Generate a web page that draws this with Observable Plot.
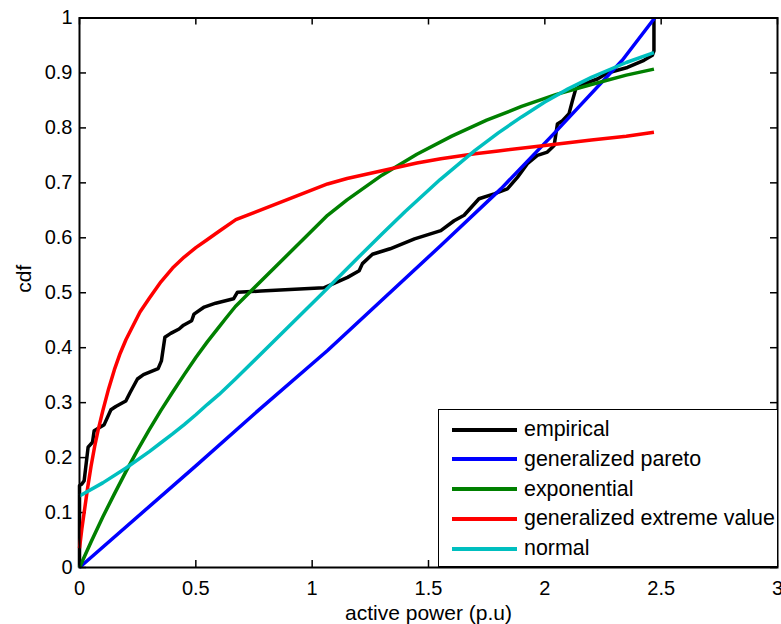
<!DOCTYPE html>
<html>
<head>
<meta charset="utf-8">
<script src="https://cdn.jsdelivr.net/npm/d3@7"></script>
<script src="https://cdn.jsdelivr.net/npm/@observablehq/plot@0.6"></script>
<style>
  body { margin: 0; background: #fff; font-family: "Liberation Sans", Arial, sans-serif; }
  #wrap { position: relative; width: 781px; height: 624px; }
  #legend { position: absolute; left: 438px; top: 409px; width: 340px; height: 158px;
            border: 1.5px solid #000; background: #fff; box-sizing: border-box; }
  .row { position: absolute; left: 0; height: 30px; display: flex; align-items: center; }
  .sw { display: inline-block; width: 65px; height: 4px; margin-left: 13px; }
  .lb { margin-left: 7px; font-size: 21.4px; color: #000; white-space: nowrap; }
</style>
</head>
<body>
<div id="wrap"><div id="legend"></div></div>
<script>
// ---- data ----
const seriesNames = ["empirical", "generalized pareto", "exponential", "generalized extreme value", "normal"];
const seriesColors = ["#000000", "#0000ff", "#008000", "#ff0000", "#00bfbf"];

const empX = [0, 0, 0.01, 0.02, 0.037, 0.056, 0.063, 0.106, 0.135, 0.156, 0.199, 0.217, 0.249, 0.275, 0.338, 0.352, 0.367, 0.392, 0.428, 0.447, 0.482, 0.492, 0.536, 0.585, 0.662, 0.679, 0.78, 1.05, 1.152, 1.202, 1.216, 1.259, 1.335, 1.44, 1.553, 1.61, 1.653, 1.717, 1.782, 1.839, 1.882, 1.925, 1.968, 2.011, 2.04, 2.054, 2.076, 2.104, 2.119, 2.133, 2.168, 2.226, 2.269, 2.355, 2.426, 2.462, 2.469, 2.469];
const empY = [0, 0.149, 0.152, 0.158, 0.219, 0.228, 0.249, 0.26, 0.287, 0.293, 0.303, 0.318, 0.343, 0.351, 0.362, 0.376, 0.419, 0.426, 0.434, 0.441, 0.449, 0.461, 0.474, 0.481, 0.489, 0.501, 0.503, 0.509, 0.528, 0.54, 0.553, 0.57, 0.58, 0.598, 0.613, 0.631, 0.641, 0.671, 0.68, 0.689, 0.71, 0.735, 0.75, 0.756, 0.768, 0.807, 0.813, 0.826, 0.85, 0.871, 0.88, 0.889, 0.9, 0.91, 0.923, 0.932, 0.94, 1.0];

const gpX = [0, 0.5, 0.75, 1.066, 1.553, 1.811, 2.04, 2.333, 2.472];
const gpY = [0, 0.185, 0.279, 0.395, 0.586, 0.689, 0.79, 0.923, 1.0];

const expX = [0, 0.05, 0.1, 0.15, 0.2, 0.25, 0.3, 0.35, 0.4, 0.45, 0.5, 0.55, 0.6, 0.63, 0.67, 1.066, 1.15, 1.3, 1.45, 1.6, 1.75, 1.9, 2.05, 2.2, 2.35, 2.469];
const expY = [0, 0.047, 0.092, 0.134, 0.175, 0.214, 0.251, 0.286, 0.319, 0.351, 0.382, 0.411, 0.438, 0.454, 0.475, 0.641, 0.669, 0.714, 0.752, 0.785, 0.814, 0.839, 0.861, 0.879, 0.896, 0.907];

const gevX = [0, 0.01, 0.02, 0.035, 0.05, 0.065, 0.08, 0.1, 0.125, 0.15, 0.175, 0.2, 0.23, 0.26, 0.3, 0.35, 0.4, 0.45, 0.5, 0.55, 0.6, 0.672, 1.066, 1.15, 1.3, 1.45, 1.553, 1.7, 1.8, 2.0, 2.1, 2.2, 2.35, 2.469];
const gevY = [0.035, 0.07, 0.1, 0.145, 0.185, 0.22, 0.25, 0.285, 0.325, 0.36, 0.39, 0.415, 0.44, 0.465, 0.49, 0.52, 0.545, 0.565, 0.582, 0.597, 0.612, 0.633, 0.698, 0.708, 0.722, 0.736, 0.744, 0.753, 0.758, 0.768, 0.773, 0.778, 0.785, 0.792];

const normX = [0, 0.1, 0.2, 0.3, 0.35, 0.4, 0.45, 0.5, 0.55, 0.6, 0.67, 1.066, 1.2, 1.3, 1.4, 1.55, 1.7, 1.8, 1.9, 2.0, 2.1, 2.2, 2.35, 2.469];
const normY = [0.13, 0.154, 0.181, 0.211, 0.227, 0.243, 0.26, 0.278, 0.297, 0.315, 0.343, 0.508, 0.565, 0.607, 0.648, 0.706, 0.759, 0.791, 0.82, 0.847, 0.871, 0.892, 0.919, 0.937];

const xTicks = [0, 0.5, 1, 1.5, 2, 2.5, 3];
const yTicks = [0, 0.1, 0.2, 0.3, 0.4, 0.5, 0.6, 0.7, 0.8, 0.9, 1];
const xLabel = "active power (p.u)";
const yLabel = "cdf";

// ---- build table ----
const seriesXY = [[empX, empY], [gpX, gpY], [expX, expY], [gevX, gevY], [normX, normY]];
const rows = seriesXY.flatMap(([xs, ys], k) => xs.map((x, i) => ({x, y: ys[i], name: seriesNames[k]})));

const W = 781, H = 624, mL = 79, mR = 4, mT = 17.5, mB = 57;
const plotH = H - mT - mB, plotW = W - mL - mR, tk = 7;

const chart = Plot.plot({
  width: W, height: H,
  marginLeft: mL, marginRight: mR, marginTop: mT, marginBottom: mB,
  style: {fontFamily: "'Liberation Sans', Arial, sans-serif", fontSize: "20px", color: "#000", background: "#fff"},
  x: {domain: [0, 3]},
  y: {domain: [0, 1]},
  color: {domain: seriesNames, range: seriesColors},
  marks: [
    Plot.axisX({ticks: xTicks, tickSize: 0, tickPadding: 13.5, tickFormat: d => String(d), label: null, fontSize: 20}),
    Plot.axisY({ticks: yTicks, tickSize: 0, tickPadding: 7, tickFormat: d => String(d), label: null, fontSize: 20}),
    Plot.tickX(xTicks, {x: d => d, insetTop: plotH - tk, stroke: "#000", strokeWidth: 1.5}),
    Plot.tickX(xTicks, {x: d => d, insetBottom: plotH - tk, stroke: "#000", strokeWidth: 1.5}),
    Plot.tickY(yTicks, {y: d => d, insetRight: plotW - tk, stroke: "#000", strokeWidth: 1.5}),
    Plot.tickY(yTicks, {y: d => d, insetLeft: plotW - tk, stroke: "#000", strokeWidth: 1.5}),
    Plot.line(rows, {x: "x", y: "y", z: "name", stroke: "name", strokeWidth: 3.5, strokeLinejoin: "round", strokeLinecap: "butt"}),
    Plot.frame({stroke: "#000", strokeWidth: 2}),
    Plot.text([xLabel], {frameAnchor: "bottom", dy: 52, fontSize: 21, fill: "#000"}),
    Plot.text([yLabel], {frameAnchor: "left", dx: -55.5, rotate: -90, fontSize: 21, fill: "#000"})
  ]
});
document.getElementById("wrap").prepend(chart);

// ---- legend ----
const legend = document.getElementById("legend");
seriesNames.forEach((n, i) => {
  const r = document.createElement("div");
  r.className = "row";
  r.style.top = (4.5 + i * 29.75) + "px";
  const s = document.createElement("span");
  s.className = "sw"; s.style.background = seriesColors[i];
  const t = document.createElement("span");
  t.className = "lb"; t.textContent = n;
  r.append(s, t);
  legend.append(r);
});
</script>
</body>
</html>
